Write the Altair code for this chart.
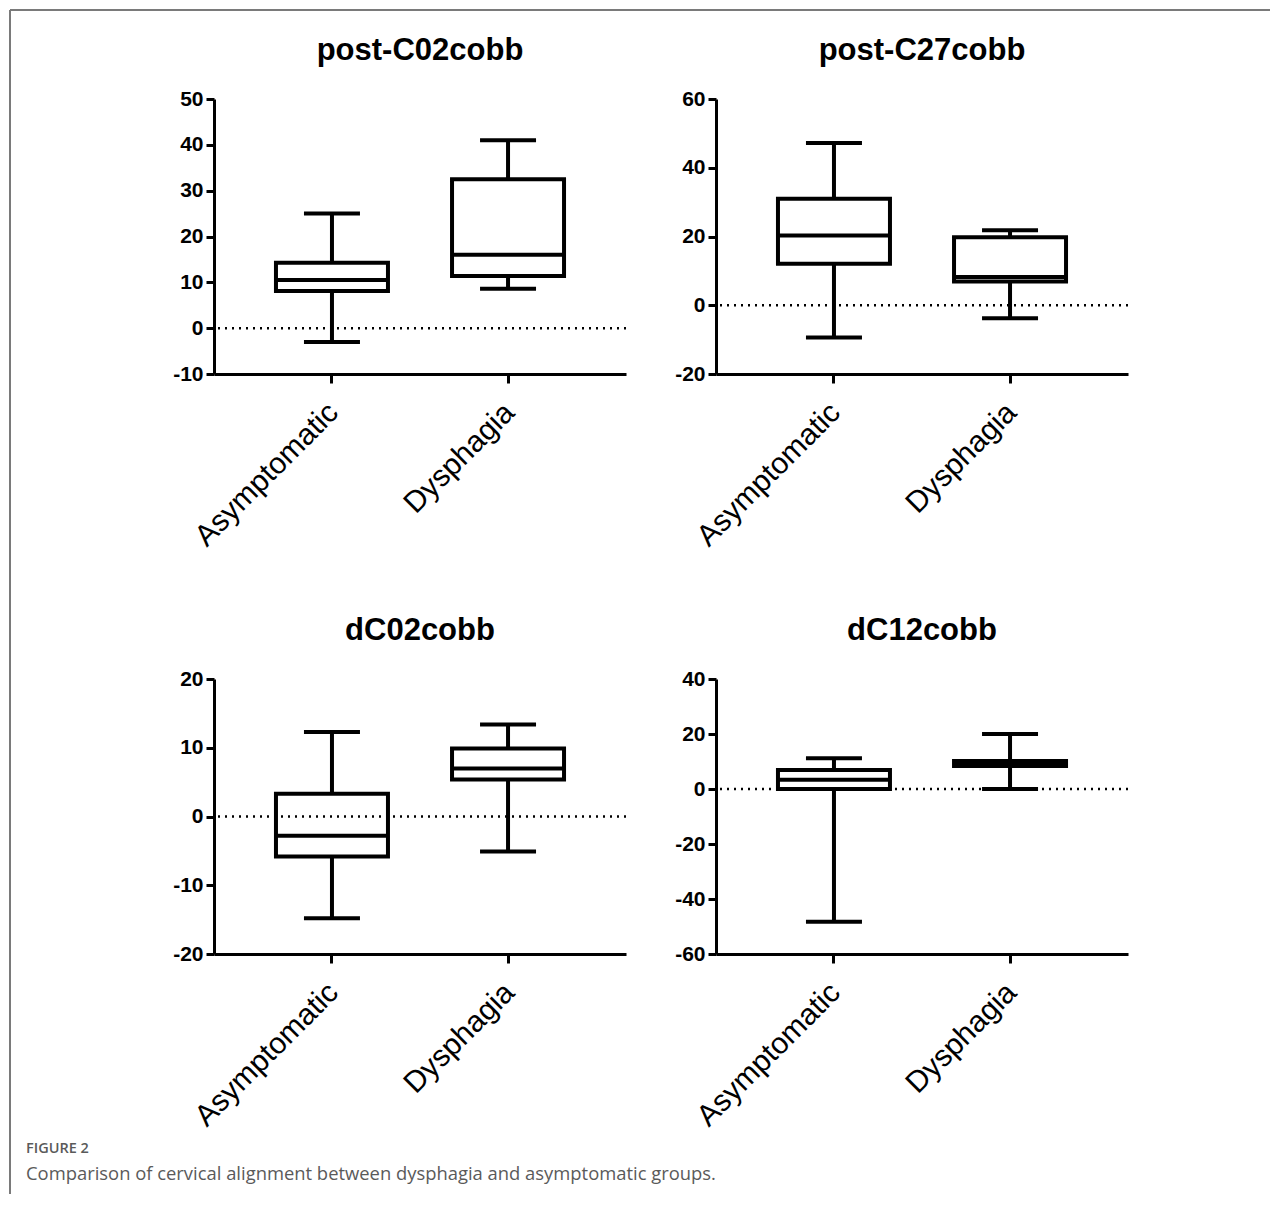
import altair as alt
import pandas as pd

groups = ["Asymptomatic", "Dysphagia"]
titles = ["post-C02cobb", "post-C27cobb", "dC02cobb", "dC12cobb"]

# five-number summaries: [Asymptomatic, Dysphagia]
p1_lo = [-3.0, 8.6]
p1_q1 = [8.1, 11.4]
p1_med = [10.5, 16.0]
p1_q3 = [14.3, 32.5]
p1_hi = [25.0, 41.0]

p2_lo = [-9.4, -3.8]
p2_q1 = [12.1, 6.9]
p2_med = [20.3, 8.2]
p2_q3 = [31.0, 19.8]
p2_hi = [47.2, 21.8]

p3_lo = [-14.8, -5.1]
p3_q1 = [-5.8, 5.4]
p3_med = [-2.8, 7.0]
p3_q3 = [3.3, 9.9]
p3_hi = [12.3, 13.4]

p4_lo = [-48.3, 0.0]
p4_q1 = [0.0, 8.4]
p4_med = [3.4, 9.5]
p4_q3 = [6.9, 10.2]
p4_hi = [11.2, 20.0]

domains = [[-10, 50], [-20, 60], [-20, 20], [-60, 40]]
tick_vals = [[-10, 0, 10, 20, 30, 40, 50], [-20, 0, 20, 40, 60],
             [-20, -10, 0, 10, 20], [-60, -40, -20, 0, 20, 40]]

caption_head = "FIGURE 2"
caption_text = "Comparison of cervical alignment between dysphagia and asymptomatic groups."

FONT = "Liberation Sans"
W, H = 412, 275
BOX_W = 112
CAP_W = 56


def panel(i, lo, q1, med, q3, hi, deco=False):
    df = pd.DataFrame({"group": groups, "lo": lo, "q1": q1, "med": med, "q3": q3, "hi": hi})
    one = pd.DataFrame({"k": [0]})
    yscale = alt.Scale(domain=domains[i], nice=False, zero=False)
    xenc = alt.X("group:N", title=None,
                 scale=alt.Scale(type="band", domain=groups, paddingInner=0, paddingOuter=0.17),
                 axis=alt.Axis(labelAngle=-45, labelFontSize=30, labelFont=FONT, labelColor="black",
                               labelLimit=400, labelPadding=14, labelOffset=-9,
                               domainWidth=3, domainColor="black",
                               tickWidth=3, tickSize=9, tickColor="black"))
    yaxis = alt.Axis(values=tick_vals[i], labelExpr="'' + datum.value", labelFontSize=21,
                     labelFontWeight="bold", labelFont=FONT,
                     labelColor="black", labelPadding=3, domainWidth=3, domainColor="black",
                     tickWidth=3, tickSize=8, tickColor="black", grid=False)

    zero = alt.Chart(pd.DataFrame({"v": [0]})).mark_rule(
        strokeDash=[2, 5], strokeWidth=2.5, color="black"
    ).encode(y=alt.Y("v:Q", scale=yscale, axis=yaxis, title=None))

    base = alt.Chart(df).encode(x=xenc)
    wlow = base.mark_rule(strokeWidth=4, color="black").encode(
        y=alt.Y("lo:Q", scale=yscale, title=None), y2="q1:Q")
    whigh = base.mark_rule(strokeWidth=4, color="black").encode(
        y=alt.Y("q3:Q", scale=yscale, title=None), y2="hi:Q")
    cap_lo = base.mark_tick(size=CAP_W, thickness=4, color="black", opacity=1).encode(
        y=alt.Y("lo:Q", scale=yscale, title=None))
    cap_hi = base.mark_tick(size=CAP_W, thickness=4, color="black", opacity=1).encode(
        y=alt.Y("hi:Q", scale=yscale, title=None))
    box = base.mark_bar(width=BOX_W, fill="white", fillOpacity=0, stroke="black", strokeWidth=4).encode(
        y=alt.Y("q1:Q", scale=yscale, title=None), y2="q3:Q")
    median = base.mark_tick(size=BOX_W, thickness=4, color="black", opacity=1).encode(
        y=alt.Y("med:Q", scale=yscale, title=None))
    title = alt.Chart(one).mark_text(align="center", baseline="middle", fontSize=31,
                                     fontWeight="bold", font=FONT, color="black").encode(
        x=alt.value(W / 2), y=alt.value(-48), text=alt.value(titles[i]))

    layers = [zero, wlow, whigh, cap_lo, cap_hi, box, median, title]

    if deco:
        top_line = alt.Chart(one).mark_rule(color="#7a7a7a", strokeWidth=2).encode(
            x=alt.value(-204), x2=alt.value(1056), y=alt.value(-89), y2=alt.value(-89))
        left_line = alt.Chart(one).mark_rule(color="#7a7a7a", strokeWidth=2).encode(
            x=alt.value(-204), x2=alt.value(-204), y=alt.value(-89), y2=alt.value(1095))
        head = alt.Chart(one).mark_text(align="left", baseline="middle", fontSize=14.5,
                                        fontWeight=600, font="Open Sans", color="#5a5a5a").encode(
            x=alt.value(-188), y=alt.value(1050), text=alt.value(caption_head))
        cap = alt.Chart(one).mark_text(align="left", baseline="middle", fontSize=18.4,
                                       font="Open Sans", color="#5a5a5a").encode(
            x=alt.value(-188), y=alt.value(1075), text=alt.value(caption_text))
        layers += [top_line, left_line, head, cap]

    return alt.layer(*layers).properties(width=W, height=H)


p1 = panel(0, p1_lo, p1_q1, p1_med, p1_q3, p1_hi, deco=True)
p2 = panel(1, p2_lo, p2_q1, p2_med, p2_q3, p2_hi)
p3 = panel(2, p3_lo, p3_q1, p3_med, p3_q3, p3_hi)
p4 = panel(3, p4_lo, p4_q1, p4_med, p4_q3, p4_hi)

chart = alt.concat(p1, p2, p3, p4, columns=2, spacing={"row": 305, "column": 90},
                   bounds="flush").properties(padding=1, background="white").configure_view(
    stroke="transparent", strokeWidth=0)

chart.save("out.html", embed_options={"renderer": "svg", "actions": False})
